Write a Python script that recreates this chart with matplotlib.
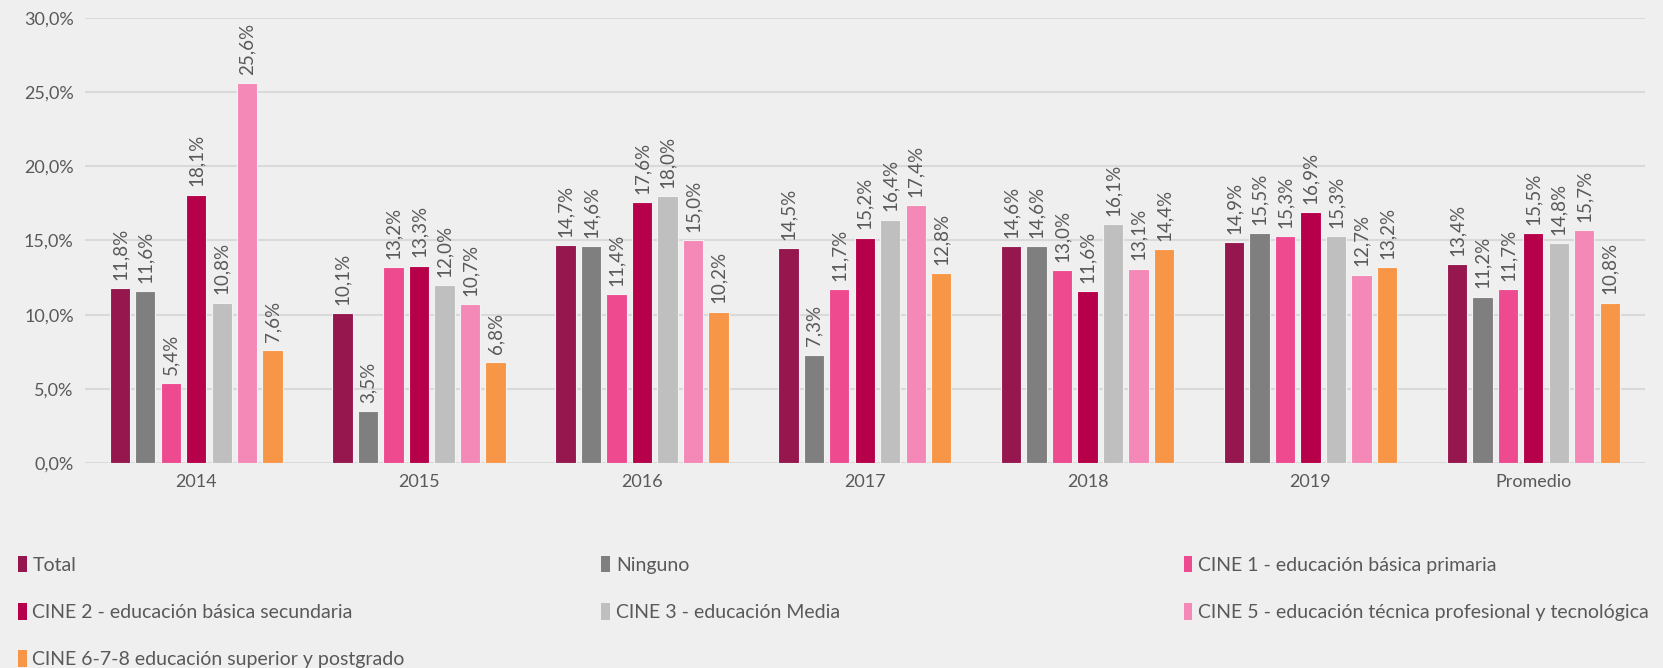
import matplotlib.pyplot as plt
from matplotlib.patches import Patch
import numpy as np

plt.rcParams['font.family'] = ['Lato', 'DejaVu Sans']

years = ["2014", "2015", "2016", "2017", "2018", "2019", "Promedio"]
series_names = [
    "Total",
    "Ninguno",
    "CINE 1 - educación básica primaria",
    "CINE 2 - educación básica secundaria",
    "CINE 3 - educación Media",
    "CINE 5 - educación técnica profesional y tecnológica",
    "CINE 6-7-8 educación superior y postgrado",
]
colors = ["#96164E", "#7F7F7F", "#EE4A90", "#B7004A", "#BFBFBF", "#F489B8", "#F79646"]

total = [11.8, 10.1, 14.7, 14.5, 14.6, 14.9, 13.4]
ninguno = [11.6, 3.5, 14.6, 7.3, 14.6, 15.5, 11.2]
cine1 = [5.4, 13.2, 11.4, 11.7, 13.0, 15.3, 11.7]
cine2 = [18.1, 13.3, 17.6, 15.2, 11.6, 16.9, 15.5]
cine3 = [10.8, 12.0, 18.0, 16.4, 16.1, 15.3, 14.8]
cine5 = [25.6, 10.7, 15.0, 17.4, 13.1, 12.7, 15.7]
cine678 = [7.6, 6.8, 10.2, 12.8, 14.4, 13.2, 10.8]
values = [total, ninguno, cine1, cine2, cine3, cine5, cine678]

bg = "#EFEFEF"
txt = "#595959"

fig = plt.figure(figsize=(16.63, 6.68), dpi=100, facecolor=bg)
ax = fig.add_axes([0.051, 0.307, 0.938, 0.666], facecolor=bg)

x = np.arange(len(years))
n = len(values)
width = 0.8 / n
for i, (vals, c) in enumerate(zip(values, colors)):
    pos = x - 0.4 + width * (i + 0.5)
    bars = ax.bar(pos, vals, width * 0.8, color=c, edgecolor="#F2F2F2", linewidth=0.8, zorder=3)
    for p, v in zip(pos, vals):
        ax.annotate(f"{v:.1f}%".replace(".", ","), (p, v), xytext=(0, 6),
                    textcoords="offset points", rotation=90, ha="center", va="bottom",
                    fontsize=13.5, color=txt)

ax.set_ylim(0, 30)
ax.set_xlim(-0.5, len(years) - 0.5)
yt = np.arange(0, 31, 5)
ax.set_yticks(yt)
ax.set_yticklabels([f"{t:.1f}%".replace(".", ",") for t in yt], fontsize=13, color=txt)
ax.set_xticks(x)
ax.set_xticklabels(years, fontsize=13, color=txt)
ax.tick_params(length=0, pad=8)
ax.grid(axis="y", color="#D9D9D9", linewidth=1.5, zorder=0)
for s in ax.spines.values():
    s.set_visible(False)

handles = [Patch(facecolor=c, edgecolor="none") for c in colors]
columns = [[0, 3, 6], [1, 4], [2, 5]]
col_x = [0.006, 0.357, 0.707]
for cx, idx in zip(col_x, columns):
    fig.legend([handles[i] for i in idx], [series_names[i] for i in idx],
               loc="upper left", bbox_to_anchor=(cx, 0.18), frameon=False,
               fontsize=14, labelcolor=txt, handlelength=0.45, handleheight=0.95,
               handletextpad=0.3, labelspacing=1.5, borderaxespad=0)

fig.savefig("out.png", dpi=100, facecolor=bg)
